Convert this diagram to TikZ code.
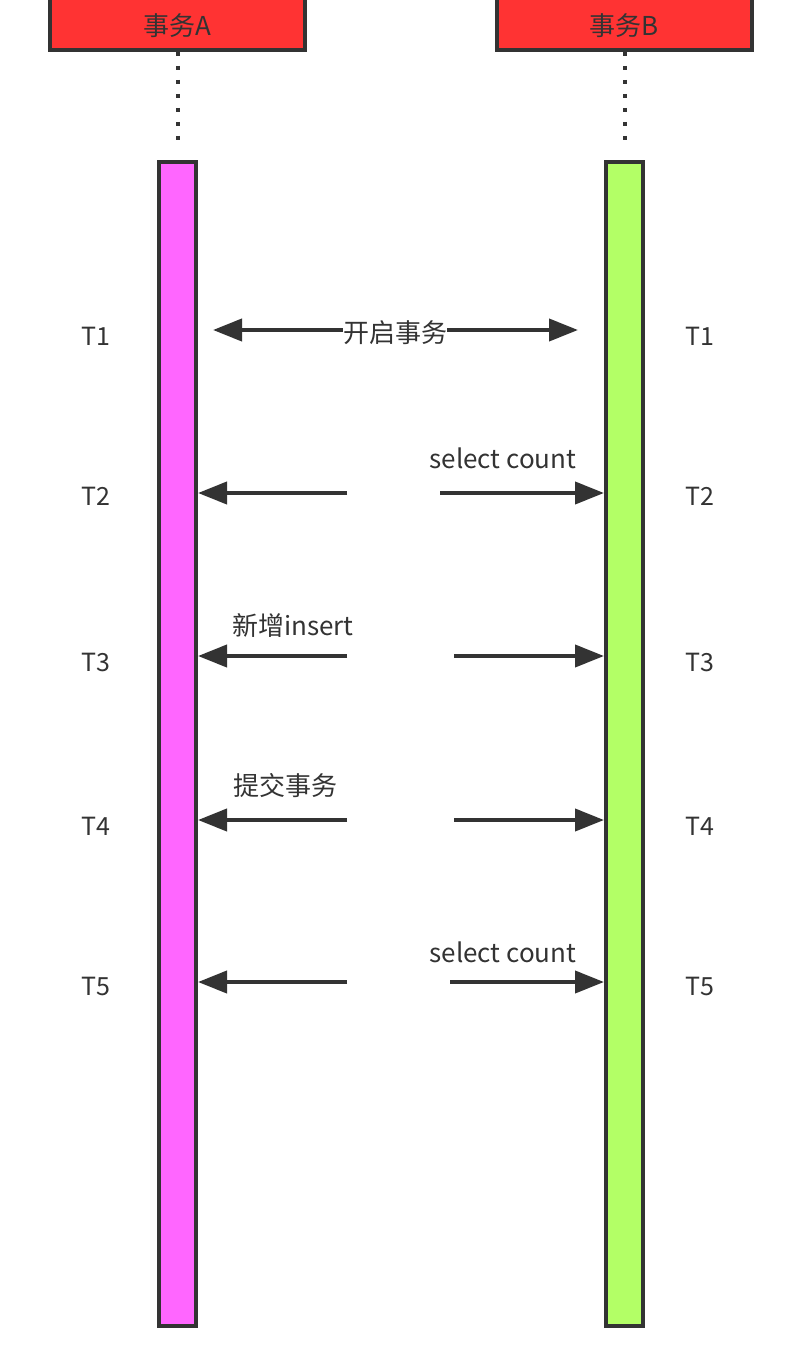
\documentclass[tikz,border=0pt]{standalone}
\usepackage{fontspec}
\setmainfont{Noto Sans CJK SC}
\usetikzlibrary{arrows.meta}
\definecolor{ln}{HTML}{333333}
\definecolor{hdr}{HTML}{FF3333}
\definecolor{pinkbar}{HTML}{FF66FF}
\definecolor{greenbar}{HTML}{B3FF66}
\begin{document}
\begin{tikzpicture}[x=1pt,y=-1pt,
  every node/.style={font=\fontsize{26}{30}\selectfont, text=ln, inner sep=0pt},
  header/.style={draw=ln, line width=4pt, fill=hdr, minimum width=255pt, minimum height=54pt},
  lifebar/.style={draw=ln, line width=4pt, minimum width=37pt, minimum height=1164pt},
  lifeline/.style={draw=ln, line width=4pt, dash pattern=on 4.5pt off 9.5pt},
  msg/.style={draw=ln, line width=4pt, -{Triangle[length=29pt,width=22pt]}},
  tlabel/.style={font=\fontsize{25}{30}\selectfont}
]
\useasboundingbox (0,0) rectangle (802,1372);
\clip (0,0) rectangle (802,1372);
\fill[white] (0,0) rectangle (802,1372);

% headers
\node[header] (boxA) at (177.5,23) {};
\node (txtA) at (177.5,26) {事务A};
\node[header] (boxB) at (624,23) {};
\node (txtB) at (624,26) {事务B};

% bars
\node[lifebar, fill=pinkbar] (barA) at (177.5,744) {};
\node[lifebar, fill=greenbar] (barB) at (624.5,744) {};

% dotted lifelines
\coordinate (endA) at (178,142);
\coordinate (endB) at (624.5,142);
\draw[lifeline] (boxA.south -| endA) -- (endA);
\draw[lifeline] (boxB.south -| endB) -- (endB);

% T1
\coordinate (s1l) at (213,330);
\coordinate (s1r) at (578,330);
\node (m1) at (395,333) {开启事务};
\draw[msg] (m1.west |- s1l) -- (s1l);
\draw[msg] (m1.east |- s1r) -- (s1r);

% T2
\coordinate (a2) at (347,493);
\coordinate (b2) at (440,493);
\draw[msg] (a2) -- (barA.east |- a2);
\draw[msg] (b2) -- (barB.west |- b2);
\node (m2) at (503,458) {select count};

% T3
\coordinate (a3) at (347,656);
\coordinate (b3) at (454,656);
\draw[msg] (a3) -- (barA.east |- a3);
\draw[msg] (b3) -- (barB.west |- b3);
\node (m3) at (293,626) {新增insert};

% T4
\coordinate (a4) at (347,820);
\coordinate (b4) at (454,820);
\draw[msg] (a4) -- (barA.east |- a4);
\draw[msg] (b4) -- (barB.west |- b4);
\node (m4) at (285,786) {提交事务};

% T5
\coordinate (a5) at (347,982);
\coordinate (b5) at (450,982);
\draw[msg] (a5) -- (barA.east |- a5);
\draw[msg] (b5) -- (barB.west |- b5);
\node (m5) at (503,952) {select count};

% time labels
\node[tlabel] (tl1) at (96,336) {T1};
\node[tlabel] (tr1) at (700,336) {T1};
\node[tlabel] (tl2) at (96,496) {T2};
\node[tlabel] (tr2) at (700,496) {T2};
\node[tlabel] (tl3) at (96,662) {T3};
\node[tlabel] (tr3) at (700,662) {T3};
\node[tlabel] (tl4) at (96,826) {T4};
\node[tlabel] (tr4) at (700,826) {T4};
\node[tlabel] (tl5) at (96,986) {T5};
\node[tlabel] (tr5) at (700,986) {T5};
\end{tikzpicture}
\end{document}
